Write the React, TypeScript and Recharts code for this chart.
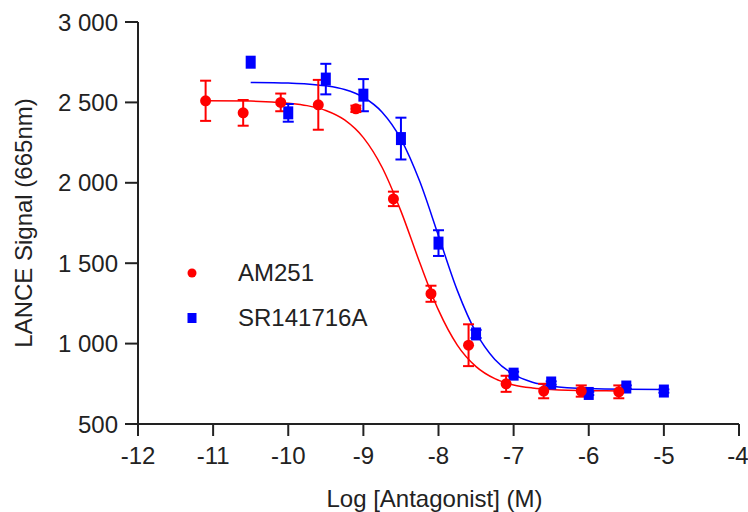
import React from 'react';
import { ComposedChart, Scatter, Line, XAxis, YAxis, ErrorBar, Legend } from 'recharts';

// measured points (mean +/- error)
const am251X = [-11.1, -10.6, -10.1, -9.6, -9.1, -8.6, -8.1, -7.6, -7.1, -6.6, -6.1, -5.6];
const am251Y = [2510, 2435, 2500, 2485, 2460, 1900, 1310, 990, 750, 705, 705, 700];
const am251Err = [125, 80, 55, 155, 20, 45, 50, 130, 50, 45, 35, 40];

const srX = [-10.5, -10.0, -9.5, -9.0, -8.5, -8.0, -7.5, -7.0, -6.5, -6.0, -5.5, -5.0];
const srY = [2750, 2435, 2645, 2545, 2275, 1625, 1060, 810, 755, 690, 730, 705];
const srErr = [0, 55, 95, 100, 130, 80, 25, 15, 10, 10, 10, 10];

// fitted curves
const am251FitX = [-11.1, -10.5, -10, -9.75, -9.5, -9.25, -9, -8.75, -8.5, -8.25, -8, -7.75, -7.5, -7.25, -7, -6.75, -6.5, -6, -5.6];
const am251FitY = [2510, 2508, 2495, 2480, 2450, 2391, 2281, 2095, 1824, 1504, 1208, 991, 857, 782, 743, 724, 714, 707, 706];

const srFitX = [-10.5, -10, -9.75, -9.5, -9.25, -9, -8.75, -8.5, -8.25, -8, -7.75, -7.5, -7.25, -7, -6.75, -6.5, -6, -5.5, -5];
const srFitY = [2624, 2620, 2615, 2603, 2580, 2532, 2439, 2272, 2009, 1670, 1331, 1068, 901, 808, 760, 737, 720, 716, 715];

const xTicks = [-12, -11, -10, -9, -8, -7, -6, -5, -4];
const yTicks = [500, 1000, 1500, 2000, 2500, 3000];

const RED = '#ff0000';
const BLUE = '#0000ff';
const INK = '#222';
const FONT = '"Liberation Sans", Arial, sans-serif';

const am251 = am251X.map((x, i) => ({ x, y: am251Y[i], err: am251Err[i] }));
const sr = srX.map((x, i) => ({ x, y: srY[i], err: srErr[i] }));
const am251Fit = am251FitX.map((x, i) => ({ x, y: am251FitY[i] }));
const srFit = srFitX.map((x, i) => ({ x, y: srFitY[i] }));

const fmtY = (v: number) =>
  v >= 1000 ? `${Math.floor(v / 1000)}\u00a0${String(v % 1000).padStart(3, '0')}` : String(v);

const Dot = (props: any) => <circle cx={props.cx} cy={props.cy} r={5.5} fill={RED} />;
const Box = (props: any) => <rect x={props.cx - 5} y={props.cy - 6.5} width={10} height={13} fill={BLUE} />;

function LegendBox() {
  const row = { display: 'flex', alignItems: 'center', height: 45 } as const;
  return (
    <div style={{ fontFamily: FONT, fontSize: 24, color: INK }}>
      <div style={row}>
        <svg width={10} height={10} style={{ marginRight: 41 }}>
          <circle cx={5} cy={5} r={4.5} fill={RED} />
        </svg>
        <span>AM251</span>
      </div>
      <div style={row}>
        <svg width={10} height={10} style={{ marginRight: 41 }}>
          <rect x={0.5} y={0} width={9} height={10} fill={BLUE} />
        </svg>
        <span>SR141716A</span>
      </div>
    </div>
  );
}

export default function App() {
  const tick = { fill: INK, fontSize: 24, fontFamily: FONT };
  const line = { stroke: INK, strokeWidth: 2 };
  return (
    <div style={{ width: 748, height: 512, background: '#fff' }}>
      <style>{'body{margin:0}'}</style>
      <ComposedChart width={748} height={512} margin={{ top: 22, right: 9, bottom: 0, left: 0 }} style={{ fontFamily: FONT }}>
        <XAxis
          type="number"
          dataKey="x"
          domain={[-12, -4]}
          ticks={xTicks}
          height={88}
          tick={tick}
          tickSize={12}
          tickMargin={11}
          axisLine={line}
          tickLine={line}
          label={{ value: 'Log [Antagonist] (M)', position: 'insideBottom', offset: 5, dx: -4, fill: INK, fontSize: 24, fontFamily: FONT }}
        />
        <YAxis
          type="number"
          dataKey="y"
          domain={[500, 3000]}
          ticks={yTicks}
          width={138}
          tick={tick}
          tickSize={13}
          tickMargin={7}
          tickFormatter={fmtY}
          axisLine={line}
          tickLine={line}
          label={{ value: 'LANCE Signal (665nm)', angle: -90, position: 'center', dx: -46, fill: INK, fontSize: 24, fontFamily: FONT }}
        />
        <Legend layout="vertical" align="center" verticalAlign="middle" content={() => <LegendBox />} wrapperStyle={{ left: 187, top: 250, width: 220 }} />
        <Line data={srFit} dataKey="y" type="monotone" stroke={BLUE} strokeWidth={1.5} dot={false} isAnimationActive={false} legendType="none" />
        <Line data={am251Fit} dataKey="y" type="monotone" stroke={RED} strokeWidth={1.5} dot={false} isAnimationActive={false} legendType="none" />
        <Scatter name="SR141716A" data={sr} dataKey="y" shape={Box} isAnimationActive={false}>
          <ErrorBar dataKey="err" direction="y" width={5.5} stroke={BLUE} strokeWidth={2} isAnimationActive={false} />
        </Scatter>
        <Scatter name="AM251" data={am251} dataKey="y" shape={Dot} isAnimationActive={false}>
          <ErrorBar dataKey="err" direction="y" width={5.5} stroke={RED} strokeWidth={2} isAnimationActive={false} />
        </Scatter>
      </ComposedChart>
    </div>
  );
}
